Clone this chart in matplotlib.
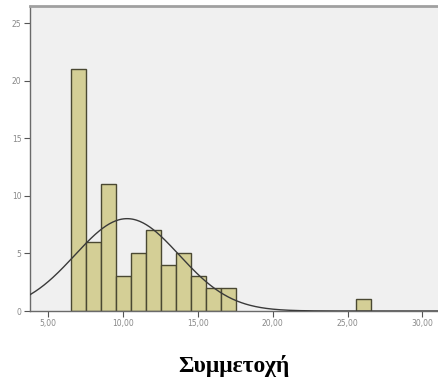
import matplotlib.pyplot as plt
import numpy as np

# histogram of participation scores
bin_start = 6.54
bin_width = 1.0
counts = [21, 6, 11, 3, 5, 7, 4, 5, 3, 2, 2, 0, 0, 0, 0, 0, 0, 0, 0, 1]

# fitted normal curve parameters
mean = 10.28
sd = 3.48

x_ticks = [5, 10, 15, 20, 25, 30]
x_labels = ["5,00", "10,00", "15,00", "20,00", "25,00", "30,00"]
y_ticks = [0, 5, 10, 15, 20, 25]

fig = plt.figure(figsize=(4.39, 3.89), dpi=100)
ax = fig.add_axes([0.068, 0.2005, 0.935, 0.784])
ax.set_facecolor("#f0f0f0")

edges = bin_start + bin_width * np.arange(len(counts) + 1)
centers = edges[:-1] + bin_width / 2
heights = np.array(counts, dtype=float)
keep = heights > 0
ax.bar(centers[keep], heights[keep], width=bin_width, color="#d4cf96",
       edgecolor="#4a4832", linewidth=1.0, zorder=2)

# normal curve scaled to the histogram
n = sum(counts)
xs = np.linspace(3.0, 32.0, 400)
ys = n * bin_width / (sd * np.sqrt(2 * np.pi)) * np.exp(-0.5 * ((xs - mean) / sd) ** 2)
ax.plot(xs, ys, color="#3a3a3a", linewidth=1.0, zorder=3)

ax.set_xlim(3.79, 31.19)
ax.set_ylim(0, 26.5)
ax.set_xticks(x_ticks)
ax.set_xticklabels(x_labels)
ax.set_yticks(y_ticks)
ax.tick_params(labelsize=5.5, length=4, width=0.8, pad=2,
               colors="#555555", labelcolor="#888888")

for side in ["left", "bottom"]:
    ax.spines[side].set_color("#6a6a6a")
    ax.spines[side].set_linewidth(1.0)
ax.spines["top"].set_color("#a0a0a0")
ax.spines["top"].set_linewidth(2.0)
ax.spines["right"].set_visible(False)

fig.text(0.533, 0.06, "Συμμετοχή", ha="center", va="center",
         fontsize=17, fontweight="bold", family="Liberation Serif")

fig.savefig("out.png", dpi=100)
